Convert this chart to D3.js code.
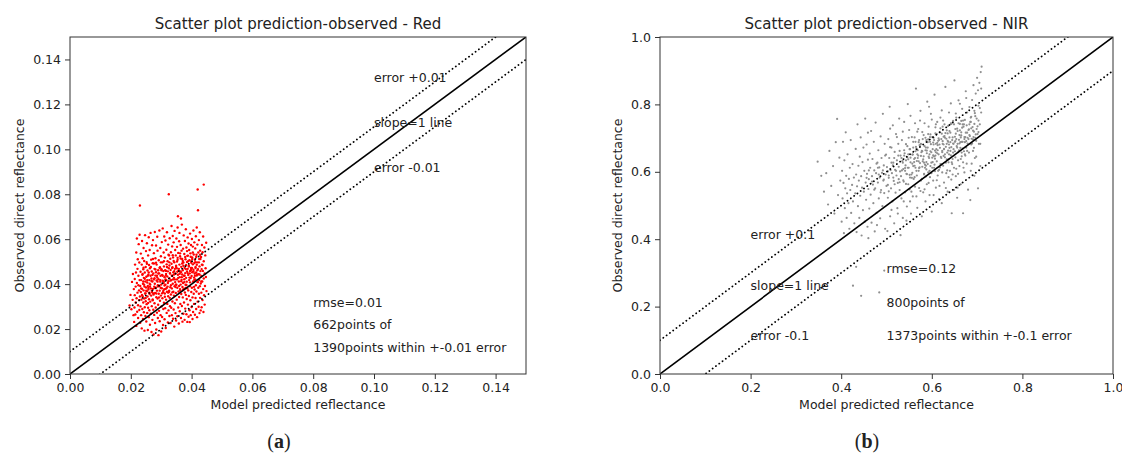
<!DOCTYPE html>
<html>
<head>
<meta charset="utf-8">
<script src="https://cdn.jsdelivr.net/npm/d3@7"></script>
<style>
body { margin: 0; background: #fff; }
text { font-family: "DejaVu Sans", sans-serif; fill: #222; }
</style>
</head>
<body>
<svg id="chart" width="1122" height="453"></svg>
<script>
// tick values for both panels
var redTicks = [0, 0.02, 0.04, 0.06, 0.08, 0.10, 0.12, 0.14];
var nirTicks = [0, 0.2, 0.4, 0.6, 0.8, 1.0];

// offsets of the reference lines (0 = slope 1 line)
var redOffsets = [0, 0.01, -0.01];
var nirOffsets = [0, 0.1, -0.1];

var redNotes = [
    { x: 0.10, y: 0.13, text: "error +0.01" },
    { x: 0.10, y: 0.11, text: "slope=1 line" },
    { x: 0.10, y: 0.09, text: "error -0.01" },
    { x: 0.08, y: 0.03, text: "rmse=0.01" },
    { x: 0.08, y: 0.02, text: "662points of" },
    { x: 0.08, y: 0.01, text: "1390points within +-0.01 error" }
];
var nirNotes = [
    { x: 0.2, y: 0.40, text: "error +0.1" },
    { x: 0.2, y: 0.25, text: "slope=1 line" },
    { x: 0.2, y: 0.10, text: "error -0.1" },
    { x: 0.5, y: 0.30, text: "rmse=0.12" },
    { x: 0.5, y: 0.20, text: "800points of" },
    { x: 0.5, y: 0.10, text: "1373points within +-0.1 error" }
];

// [predicted, observed]
var redPoints = [
[.0196,.0305],[.0199,.0352],[.0202,.0288],[.0204,.0410],[.0206,.0330],[.0207,.0445],[.0209,.0262],[.0210,.0378],
[.0211,.0232],[.0212,.0296],[.0213,.0351],[.0213,.0423],[.0214,.0487],[.0215,.0265],[.0216,.0318],[.0216,.0389],[.0217,.0452],[.0218,.0541],
[.0218,.0214],[.0219,.0337],[.0220,.0405],[.0220,.0603],[.0221,.0277],[.0222,.0362],[.0222,.0468],[.0223,.0511],[.0224,.0249],[.0224,.0306],
[.0225,.0395],[.0225,.0437],[.0226,.0578],[.0227,.0329],[.0227,.0372],[.0228,.0285],[.0228,.0496],[.0229,.0418],[.0229,.0620],[.0230,.0345],
[.0231,.0228],[.0231,.0392],[.0232,.0301],[.0232,.0455],[.0233,.0536],[.0233,.0365],[.0234,.0262],[.0234,.0418],[.0230,.0750],[.0235,.0331],
[.0236,.0487],[.0236,.0203],[.0237,.0379],[.0237,.0592],[.0238,.0289],[.0238,.0442],[.0239,.0346],[.0239,.0515],[.0240,.0245],[.0240,.0402],
[.0241,.0318],[.0241,.0466],[.0242,.0372],[.0242,.0561],[.0243,.0275],[.0243,.0428],[.0244,.0336],[.0244,.0503],[.0245,.0193],[.0245,.0389],
[.0246,.0452],[.0246,.0297],[.0247,.0618],[.0247,.0358],[.0248,.0412],[.0248,.0258],[.0249,.0476],[.0249,.0324],[.0250,.0547],[.0250,.0385],
[.0251,.0234],[.0251,.0433],[.0252,.0311],[.0252,.0498],[.0253,.0368],[.0253,.0582],[.0254,.0272],[.0254,.0407],[.0255,.0345],[.0255,.0461],
[.0256,.0196],[.0256,.0392],[.0257,.0295],[.0257,.0528],[.0258,.0376],[.0258,.0442],[.0259,.0253],[.0259,.0609],[.0260,.0333],[.0260,.0485],
[.0261,.0418],[.0261,.0284],[.0262,.0356],[.0262,.0552],[.0263,.0219],[.0263,.0471],[.0264,.0398],[.0264,.0322],[.0265,.0437],[.0265,.0628],
[.0266,.0268],[.0266,.0381],[.0267,.0509],[.0267,.0349],[.0268,.0187],[.0268,.0425],[.0269,.0302],[.0269,.0456],[.0270,.0364],[.0270,.0573],
[.0271,.0241],[.0271,.0412],[.0272,.0328],[.0272,.0493],[.0273,.0379],[.0273,.0596],[.0274,.0286],[.0274,.0447],[.0275,.0176],[.0275,.0354],
[.0276,.0421],[.0276,.0538],[.0277,.0263],[.0277,.0389],[.0278,.0468],[.0278,.0315],[.0279,.0632],[.0279,.0402],[.0280,.0227],[.0280,.0361],
[.0281,.0515],[.0281,.0438],[.0282,.0296],[.0282,.0384],[.0283,.0572],[.0283,.0453],[.0284,.0342],[.0284,.0198],[.0285,.0416],[.0285,.0487],
[.0286,.0273],[.0286,.0371],[.0287,.0611],[.0287,.0429],[.0288,.0336],[.0288,.0549],[.0289,.0249],[.0289,.0395],[.0290,.0462],[.0290,.0308],
[.0291,.0173],[.0291,.0422],[.0292,.0357],[.0292,.0506],[.0293,.0281],[.0293,.0448],[.0294,.0393],[.0294,.0639],[.0295,.0235],[.0295,.0371],
[.0296,.0475],[.0296,.0326],[.0297,.0561],[.0297,.0411],[.0298,.0262],[.0298,.0437],[.0299,.0349],[.0299,.0524],[.0300,.0189],[.0300,.0398],
[.0301,.0466],[.0301,.0301],[.0302,.0587],[.0302,.0382],[.0303,.0254],[.0303,.0441],[.0304,.0337],[.0304,.0497],[.0305,.0415],[.0305,.0648],
[.0306,.0218],[.0306,.0364],[.0307,.0458],[.0307,.0289],[.0308,.0541],[.0308,.0405],[.0309,.0317],[.0309,.0479],[.0310,.0377],[.0310,.0612],
[.0311,.0244],[.0311,.0431],[.0312,.0358],[.0312,.0518],[.0313,.0293],[.0313,.0462],[.0314,.0397],[.0314,.0594],[.0315,.0205],[.0315,.0379],
[.0316,.0445],[.0316,.0331],[.0317,.0553],[.0317,.0418],[.0318,.0272],[.0318,.0488],[.0319,.0366],[.0319,.0631],[.0320,.0312],[.0320,.0434],
[.0321,.0502],[.0321,.0389],[.0322,.0229],[.0322,.0457],[.0323,.0346],[.0323,.0576],[.0324,.0413],[.0324,.0283],[.0325,.0800],[.0325,.0471],
[.0326,.0371],[.0326,.0528],[.0327,.0258],[.0327,.0426],[.0328,.0339],[.0328,.0604],[.0329,.0449],[.0329,.0302],[.0330,.0386],[.0330,.0513],
[.0331,.0227],[.0331,.0463],[.0332,.0354],[.0332,.0542],[.0333,.0418],[.0333,.0295],[.0334,.0491],[.0334,.0659],[.0335,.0381],[.0335,.0262],
[.0336,.0437],[.0336,.0568],[.0337,.0323],[.0337,.0475],[.0338,.0402],[.0338,.0614],[.0339,.0246],[.0339,.0519],[.0340,.0366],[.0340,.0453],
[.0341,.0287],[.0341,.0586],[.0342,.0428],[.0342,.0349],[.0343,.0497],[.0343,.0211],[.0344,.0391],[.0344,.0637],[.0345,.0468],[.0345,.0315],
[.0346,.0552],[.0346,.0409],[.0347,.0271],[.0347,.0446],[.0348,.0361],[.0348,.0528],[.0349,.0482],[.0349,.0238],[.0350,.0397],[.0350,.0603],
[.0351,.0331],[.0351,.0471],[.0352,.0421],[.0352,.0566],[.0353,.0257],[.0353,.0384],[.0354,.0508],[.0354,.0652],[.0355,.0702],[.0355,.0442],
[.0356,.0296],[.0356,.0539],[.0357,.0367],[.0357,.0461],[.0358,.0225],[.0358,.0412],[.0359,.0591],[.0359,.0343],[.0360,.0487],[.0360,.0628],
[.0361,.0279],[.0361,.0431],[.0362,.0378],[.0362,.0524],[.0363,.0456],[.0363,.0312],[.0364,.0574],[.0364,.0398],[.0365,.0692],[.0365,.0249],
[.0366,.0477],[.0366,.0356],[.0367,.0549],[.0367,.0419],[.0368,.0303],[.0368,.0665],[.0369,.0443],[.0369,.0512],[.0370,.0387],[.0370,.0233],
[.0371,.0462],[.0371,.0341],[.0372,.0558],[.0372,.0405],[.0373,.0268],[.0373,.0496],[.0374,.0379],[.0374,.0617],[.0375,.0437],[.0375,.0318],
[.0376,.0534],[.0376,.0422],[.0377,.0241],[.0377,.0472],[.0378,.0363],[.0378,.0592],[.0379,.0449],[.0379,.0291],[.0380,.0511],[.0380,.0397],
[.0381,.0644],[.0381,.0352],[.0382,.0485],[.0382,.0428],[.0383,.0266],[.0383,.0563],[.0384,.0411],[.0384,.0334],[.0385,.0499],[.0385,.0456],
[.0386,.0232],[.0386,.0381],[.0387,.0608],[.0387,.0468],[.0388,.0309],[.0388,.0527],[.0389,.0441],[.0389,.0372],[.0390,.0581],[.0390,.0255],
[.0391,.0483],[.0391,.0347],[.0392,.0552],[.0392,.0418],[.0393,.0284],[.0393,.0506],[.0394,.0231],[.0394,.0391],[.0395,.0625],[.0395,.0459],
[.0396,.0328],[.0396,.0537],[.0397,.0427],[.0397,.0262],[.0398,.0574],[.0398,.0472],[.0399,.0365],[.0399,.0501],[.0400,.0298],[.0400,.0436],
[.0401,.0601],[.0401,.0384],[.0402,.0519],[.0402,.0453],[.0403,.0245],[.0403,.0341],[.0404,.0488],[.0404,.0567],[.0405,.0412],[.0405,.0276],
[.0406,.0639],[.0406,.0464],[.0407,.0357],[.0407,.0532],[.0408,.0429],[.0408,.0312],[.0409,.0494],[.0409,.0586],[.0410,.0376],[.0410,.0447],
[.0411,.0264],[.0411,.0508],[.0412,.0421],[.0412,.0559],[.0413,.0338],[.0413,.0476],[.0414,.0613],[.0414,.0395],[.0415,.0452],[.0415,.0289],
[.0416,.0531],[.0416,.0367],[.0417,.0438],[.0417,.0652],[.0418,.0253],[.0418,.0497],[.0419,.0409],[.0419,.0576],[.0420,.0821],[.0420,.0322],
[.0421,.0467],[.0421,.0729],[.0422,.0384],[.0422,.0541],[.0423,.0299],[.0423,.0444],[.0424,.0596],[.0424,.0357],[.0425,.0512],[.0425,.0418],
[.0426,.0271],[.0426,.0479],[.0427,.0631],[.0427,.0391],[.0428,.0339],[.0428,.0549],[.0429,.0458],[.0430,.0283],[.0430,.0403],
[.0431,.0521],[.0432,.0362],[.0432,.0436],[.0433,.0297],[.0434,.0487],[.0434,.0574],[.0435,.0412],[.0436,.0329],[.0436,.0542],[.0437,.0459],
[.0438,.0378],[.0438,.0612],[.0439,.0276],[.0440,.0502],[.0440,.0425],[.0441,.0351],[.0442,.0563],[.0443,.0447],[.0443,.0309],[.0444,.0392],
[.0445,.0528],[.0446,.0471],[.0447,.0432],[.0448,.0584],[.0449,.0369],[.0440,.0843],
// denser core of the red cloud
[.0237,.0352],[.0291,.0447],[.0358,.0468],[.0402,.0512],[.0263,.0389],[.0314,.0421],[.0387,.0449],[.0246,.0424],[.0332,.0395],[.0417,.0486],
[.0272,.0332],[.0309,.0502],[.0366,.0413],[.0428,.0531],[.0251,.0371],[.0343,.0458],[.0395,.0408],[.0281,.0465],[.0326,.0366],[.0379,.0521],
[.0239,.0445],[.0298,.0384],[.0352,.0501],[.0411,.0437],[.0268,.0414],[.0319,.0476],[.0372,.0374],[.0433,.0467],[.0257,.0316],[.0338,.0529],
[.0391,.0478],[.0284,.0358],[.0305,.0437],[.0361,.0446],[.0421,.0409],[.0244,.0397],[.0327,.0483],[.0383,.0396],[.0276,.0492],[.0347,.0387],
[.0404,.0541],[.0259,.0452],[.0312,.0344],[.0369,.0492],[.0426,.0443],[.0288,.0411],[.0335,.0437],[.0398,.0463],[.0249,.0338],[.0356,.0428],
[.0415,.0521],[.0271,.0441],[.0322,.0405],[.0377,.0437],[.0295,.0472],[.0341,.0503],[.0408,.0388],[.0261,.0362],[.0316,.0459],[.0363,.0372],
[.0242,.0473],[.0303,.0359],[.0385,.0547],[.0432,.0412],[.0279,.0383],[.0329,.0447],[.0393,.0429],[.0254,.0418],[.0349,.0476],[.0419,.0462],
[.0286,.0437],[.0337,.0364],[.0371,.0503],[.0412,.0498],[.0266,.0476],[.0308,.0412],[.0359,.0392],[.0401,.0472],[.0293,.0341],[.0345,.0421],
[.0234,.0381],[.0324,.0531],[.0381,.0467],[.0424,.0497],[.0274,.0358],[.0318,.0383],[.0365,.0453],[.0397,.0522],[.0253,.0491],[.0301,.0462],
[.0354,.0517],[.0409,.0419],[.0283,.0495],[.0331,.0416],[.0376,.0409],[.0436,.0485],[.0262,.0402],[.0311,.0394],[.0389,.0503],[.0342,.0443],
[.0248,.0359],[.0297,.0418],[.0362,.0537],[.0418,.0443],[.0278,.0426],[.0323,.0362],[.0373,.0482],[.0406,.0456],[.0256,.0437],[.0336,.0472],
[.0289,.0389],[.0348,.0398],[.0394,.0448],[.0429,.0512],[.0241,.0412],[.0315,.0438],[.0368,.0431],[.0413,.0472],[.0269,.0371],[.0327,.0497],
[.0380,.0383],[.0299,.0497],[.0353,.0455],[.0399,.0495],[.0258,.0383],[.0339,.0421],[.0386,.0526],[.0273,.0512],[.0307,.0371],[.0364,.0514]
];

// [predicted, observed]
var nirPoints = [
[.348,.630],[.356,.588],[.362,.541],[.367,.596],[.371,.503],[.374,.662],[.378,.558],[.382,.617],[.385,.476],[.388,.688],[.391,.757],[.393,.531],[.396,.642],[.398,.574],
[.401,.452],[.402,.603],[.403,.521],[.404,.689],[.405,.567],[.406,.418],[.407,.634],[.408,.492],[.409,.551],[.410,.717],[.411,.588],[.412,.463],[.413,.536],
[.414,.652],[.416,.507],[.417,.579],[.418,.431],[.419,.612],[.420,.546],[.421,.694],[.422,.478],[.424,.561],[.425,.623],[.426,.512],[.428,.583],[.429,.447],
[.431,.536],[.432,.668],[.433,.592],[.434,.421],[.435,.557],[.436,.741],[.437,.498],[.438,.618],[.439,.574],[.440,.463],[.441,.645],[.442,.529],[.443,.702],
[.444,.587],[.445,.411],[.446,.553],[.447,.629],[.448,.486],[.449,.672],[.450,.541],[.451,.603],[.452,.452],[.453,.758],[.454,.568],[.455,.517],[.456,.681],
[.457,.594],[.458,.437],[.459,.636],[.460,.549],[.460,.403],[.459,.716],
[.461,.578],[.462,.491],[.463,.654],[.464,.612],[.465,.532],[.466,.721],[.467,.449],[.468,.587],[.469,.638],[.470,.562],[.471,.507],[.472,.689],[.473,.604],
[.474,.423],[.475,.551],[.476,.746],[.477,.596],[.478,.478],[.479,.442],[.480,.627],[.481,.568],[.482,.664],[.483,.521],[.484,.613],[.485,.583],[.486,.462],
[.487,.705],[.488,.546],[.489,.641],[.490,.597],[.491,.498],[.492,.772],[.493,.574],[.494,.619],[.495,.537],[.496,.683],[.497,.431],[.498,.592],[.499,.651],[.500,.558],
[.501,.614],[.502,.424],[.503,.523],[.504,.697],[.505,.582],[.506,.641],[.507,.793],[.508,.468],[.509,.605],[.510,.551],[.511,.672],[.512,.596],[.513,.512],
[.514,.738],[.515,.627],[.516,.573],[.517,.447],[.518,.659],[.519,.606],[.520,.538],[.521,.712],[.522,.589],[.523,.634],[.524,.492],[.525,.567],[.526,.683],
[.527,.615],[.528,.758],[.529,.546],[.530,.601],[.531,.412],[.531,.648],[.529,.662],[.527,.578],[.525,.476],[.523,.703],[.518,.563],[.514,.619],[.511,.487],
[.508,.728],[.505,.542],[.503,.601],
[.532,.587],[.533,.521],[.534,.694],[.535,.632],[.536,.463],[.537,.608],[.538,.571],[.539,.748],[.540,.655],[.541,.539],[.542,.619],[.543,.682],[.544,.594],
[.545,.497],[.546,.643],[.547,.801],[.548,.563],[.549,.612],[.550,.724],[.551,.548],[.552,.667],[.553,.628],[.554,.476],[.555,.592],[.556,.703],[.557,.651],
[.558,.527],[.559,.617],[.560,.579],[.533,.641],[.536,.719],[.538,.512],[.541,.603],[.543,.564],[.546,.676],[.548,.637],[.551,.591],[.553,.766],[.555,.541],
[.557,.624],[.559,.689],[.544,.455],[.549,.701],[.552,.512],[.556,.582],[.539,.664],
[.561,.638],[.562,.702],[.563,.556],[.564,.612],[.565,.847],[.566,.669],[.567,.589],[.568,.493],[.569,.641],[.570,.727],[.571,.603],[.572,.552],[.573,.679],
[.574,.626],[.575,.781],[.576,.574],[.577,.658],[.578,.468],[.579,.615],[.580,.697],[.581,.539],[.582,.646],[.583,.592],[.584,.744],[.585,.621],[.586,.512],
[.587,.672],[.588,.607],[.589,.563],[.590,.808],[.562,.584],[.564,.661],[.566,.527],[.568,.719],[.570,.648],[.572,.611],[.574,.752],[.576,.683],[.578,.579],
[.580,.631],[.582,.709],[.584,.548],[.586,.664],[.588,.694],[.563,.744],[.567,.632],[.571,.688],[.575,.543],[.579,.661],[.583,.627],[.587,.586],[.589,.655],
[.591,.672],[.592,.598],[.593,.734],[.594,.641],[.595,.531],[.596,.689],[.597,.617],[.598,.772],[.599,.658],[.600,.482],[.601,.703],[.602,.629],[.603,.574],
[.604,.681],[.605,.646],[.606,.829],[.607,.602],[.608,.714],[.609,.553],[.610,.667],[.611,.631],[.612,.748],[.613,.589],[.614,.692],[.615,.652],[.616,.519],
[.617,.681],[.618,.613],[.619,.761],[.620,.644],[.591,.623],[.593,.567],[.595,.652],[.597,.711],[.599,.596],[.601,.642],[.603,.687],[.605,.612],[.607,.663],
[.609,.741],[.611,.575],[.613,.664],[.615,.699],[.617,.558],[.619,.623],[.592,.696],[.596,.584],[.600,.755],[.604,.531],[.608,.648],[.612,.686],[.616,.606],
[.594,.793],[.618,.717],
[.621,.697],[.622,.507],[.623,.662],[.624,.734],[.625,.618],[.626,.681],[.627,.568],[.628,.706],[.629,.643],[.630,.852],[.631,.674],[.632,.596],[.633,.723],
[.634,.657],[.635,.541],[.636,.689],[.637,.628],[.638,.776],[.639,.671],[.640,.603],[.641,.716],[.642,.649],[.643,.577],[.644,.477],[.645,.694],[.646,.638],
[.647,.751],[.648,.667],[.649,.612],[.650,.871],[.621,.641],[.623,.598],[.625,.752],[.627,.668],[.629,.701],[.631,.552],[.633,.637],[.635,.692],[.637,.584],
[.639,.702],[.641,.662],[.643,.742],[.645,.623],[.647,.684],[.649,.546],[.622,.782],[.626,.647],[.630,.715],[.634,.604],[.638,.681],[.642,.803],[.646,.592],
[.624,.683],[.636,.736],
[.651,.704],[.652,.643],[.653,.587],[.654,.761],[.655,.676],[.656,.523],[.657,.721],[.658,.658],[.659,.812],[.660,.695],[.661,.617],[.662,.742],[.663,.671],
[.664,.563],[.665,.708],[.666,.646],[.667,.787],[.668,.689],[.669,.477],[.670,.734],[.671,.661],[.672,.598],[.673,.754],[.674,.703],[.675,.839],[.676,.672],
[.677,.624],[.678,.776],[.679,.701],[.680,.547],[.652,.691],[.654,.609],[.656,.728],[.658,.594],[.660,.664],[.662,.802],[.664,.638],[.666,.689],[.668,.741],
[.670,.612],[.672,.697],[.674,.648],[.676,.819],[.678,.716],[.653,.773],[.657,.553],[.661,.684],[.665,.751],[.669,.628],[.673,.688],
[.681,.724],[.682,.657],[.683,.792],[.684,.706],[.685,.516],[.686,.748],[.687,.681],[.688,.624],[.689,.813],[.690,.733],[.691,.662],[.692,.857],[.693,.719],
[.694,.588],[.695,.774],[.696,.701],[.697,.832],[.698,.645],[.699,.758],[.700,.879],[.701,.712],[.702,.551],[.703,.796],[.704,.683],[.705,.864],[.706,.741],
[.707,.617],[.708,.896],[.709,.776],[.710,.912],[.683,.741],[.687,.763],[.691,.696],[.695,.641],[.699,.727],[.703,.752],[.707,.683],[.686,.603],[.694,.781],
[.702,.842],[.706,.789],[.709,.847],
[.426,.262],[.444,.232],[.484,.242],[.495,.307],[.433,.318],
// denser core of the NIR cloud
[.553,.642],[.618,.671],[.672,.703],[.587,.618],[.641,.688],[.694,.742],[.566,.603],[.629,.652],[.683,.709],[.598,.682],
[.651,.661],[.541,.611],[.607,.639],[.662,.723],[.578,.662],[.635,.714],[.689,.684],[.559,.672],[.614,.603],[.668,.669],
[.593,.645],[.646,.702],[.701,.735],[.571,.631],[.624,.691],[.677,.738],[.548,.652],[.602,.667],[.657,.683],[.583,.594],
[.638,.652],[.692,.703],[.562,.618],[.619,.729],[.673,.652],[.596,.703],[.649,.741],[.536,.627],[.609,.683],[.664,.702],
[.575,.681],[.631,.627],[.686,.761],[.557,.597],[.612,.655],[.667,.731],[.589,.663],[.643,.673],[.698,.692],[.568,.652],
[.626,.704],[.679,.684],[.545,.593],[.604,.701],[.659,.744],[.581,.637],[.636,.663],[.691,.722],[.564,.689],[.621,.622],
[.675,.716],[.599,.627],[.653,.713],[.539,.648],[.611,.712],[.666,.657],[.586,.701],[.644,.628],[.696,.765],[.573,.613],
[.628,.741],[.681,.697],[.551,.667],[.606,.621],[.661,.709],[.591,.688],[.647,.657],[.703,.718],[.561,.629],[.616,.694],
[.671,.741],[.595,.603],[.652,.727],[.543,.634],[.603,.649],[.656,.672],[.579,.718],[.633,.683],[.687,.729],[.569,.664],
[.623,.658],[.678,.662],[.547,.612],[.608,.732],[.663,.688],[.584,.676],[.639,.721],[.693,.671],[.558,.651],[.613,.679],
[.669,.752],[.592,.712],[.648,.683],[.534,.604],[.601,.612],[.654,.697],[.576,.647],[.632,.698],[.685,.748],[.565,.674],
[.622,.713],[.676,.691],[.552,.583],[.605,.694],[.658,.634],[.588,.629],[.642,.744],[.697,.711],[.572,.694],[.627,.667],
[.682,.726],[.597,.661],[.651,.689],[.537,.575],[.609,.658],[.665,.717],[.585,.612],[.637,.637],[.688,.698],[.563,.641],
[.468,.571],[.492,.604],[.515,.583],[.478,.624],[.503,.561],[.526,.648],[.461,.604],[.487,.539],[.511,.627],[.483,.592],
[.497,.648],[.521,.603],[.473,.547],[.508,.673],[.529,.569],[.456,.582],[.494,.577],[.517,.641],[.481,.612],[.505,.589]
];

var svg = d3.select("#chart");

function drawPanel(p) {
    var x = d3.scaleLinear().domain([0, p.max]).range([p.left, p.right]);
    var y = d3.scaleLinear().domain([0, p.max]).range([p.bottom, p.top]);
    var g = svg.append("g");

    g.append("clipPath").attr("id", p.id + "-clip")
        .append("rect")
        .attr("x", p.left).attr("y", p.top)
        .attr("width", p.right - p.left).attr("height", p.bottom - p.top);

    var plot = g.append("g").attr("clip-path", "url(#" + p.id + "-clip)");

    plot.selectAll("circle")
        .data(p.points)
        .enter()
        .append("circle")
        .attr("cx", function (d) { return x(d[0]); })
        .attr("cy", function (d) { return y(d[1]); })
        .attr("r", p.r)
        .attr("fill", p.color);

    // slope=1 line and the two error lines
    var line = d3.line()
        .x(function (d) { return x(d[0]); })
        .y(function (d) { return y(d[1]); });
    plot.selectAll("path.ref")
        .data(p.offsets)
        .enter()
        .append("path")
        .attr("class", "ref")
        .attr("d", function (o) { return line([[0, o], [p.max, p.max + o]]); })
        .attr("fill", "none")
        .attr("stroke", "#000")
        .attr("stroke-width", function (o) { return o == 0 ? 1.6 : 1.8; })
        .attr("stroke-linecap", function (o) { return o == 0 ? "butt" : "round"; })
        .attr("stroke-dasharray", function (o) { return o == 0 ? null : "0.1,4"; });

    var xAxis = d3.axisBottom(x).tickValues(p.ticks).tickFormat(d3.format(p.fmt)).tickSize(5).tickPadding(4);
    var yAxis = d3.axisLeft(y).tickValues(p.ticks).tickFormat(d3.format(p.fmt)).tickSize(5).tickPadding(4);
    var xg = g.append("g").attr("transform", "translate(0," + p.bottom + ")").call(xAxis);
    var yg = g.append("g").attr("transform", "translate(" + p.left + ",0)").call(yAxis);
    [xg, yg].forEach(function (a) {
        a.attr("font-family", null).attr("font-size", null);
        a.select(".domain").remove();
        a.selectAll(".tick line").attr("stroke", "#333");
        a.selectAll(".tick text").style("font-size", "12.5px").attr("fill", "#222");
    });

    g.append("rect")
        .attr("x", p.left).attr("y", p.top)
        .attr("width", p.right - p.left).attr("height", p.bottom - p.top)
        .attr("fill", "none").attr("stroke", "#333").attr("stroke-width", 1);

    g.selectAll("text.note")
        .data(p.notes)
        .enter()
        .append("text")
        .attr("class", "note")
        .attr("x", function (d) { return x(d.x); })
        .attr("y", function (d) { return y(d.y); })
        .style("font-size", "12.5px")
        .text(function (d) { return d.text; });

    var cx = (p.left + p.right) / 2;
    g.append("text")
        .attr("x", cx).attr("y", 29)
        .attr("text-anchor", "middle")
        .style("font-size", "15px")
        .text(p.title);
    g.append("text")
        .attr("x", cx).attr("y", 409)
        .attr("text-anchor", "middle")
        .style("font-size", "12.5px")
        .text("Model predicted reflectance");
    g.append("text")
        .attr("transform", "translate(" + p.ylabelX + "," + ((p.top + p.bottom) / 2) + ") rotate(-90)")
        .attr("text-anchor", "middle")
        .attr("dy", "0.35em")
        .style("font-size", "12.5px")
        .text("Observed direct reflectance");

    var sub = g.append("text")
        .attr("x", p.subX).attr("y", 448)
        .attr("text-anchor", "middle")
        .style("font-family", "'Liberation Serif', serif")
        .style("font-size", "20px");
    sub.append("tspan").text("(");
    sub.append("tspan").style("font-weight", "bold").text(p.sub);
    sub.append("tspan").text(")");
}

drawPanel({
    id: "red", left: 70, right: 526, top: 37, bottom: 374, max: 0.15,
    ticks: redTicks, fmt: ".2f", points: redPoints, color: "#ff0000", r: 1.2,
    offsets: redOffsets, notes: redNotes,
    title: "Scatter plot prediction-observed - Red", ylabelX: 20, subX: 279, sub: "a"
});
drawPanel({
    id: "nir", left: 660, right: 1113, top: 37, bottom: 374, max: 1.0,
    ticks: nirTicks, fmt: ".1f", points: nirPoints, color: "#8f8f8f", r: 1.1,
    offsets: nirOffsets, notes: nirNotes,
    title: "Scatter plot prediction-observed - NIR", ylabelX: 618, subX: 867, sub: "b"
});
</script>
</body>
</html>
